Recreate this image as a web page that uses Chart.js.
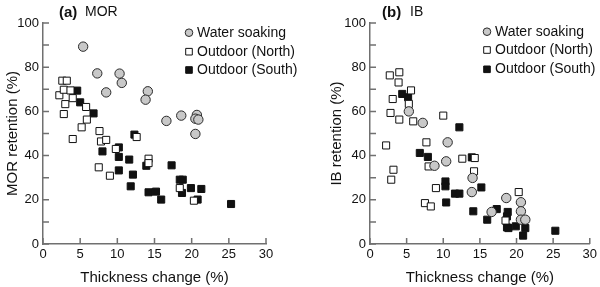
<!DOCTYPE html>
<html>
<head>
<meta charset="utf-8">
<script src="https://cdn.jsdelivr.net/npm/chart.js@4.4.1/dist/chart.umd.min.js"></script>
<style>
  html, body { margin:0; padding:0; background:#fff; }
  #wrap { position:relative; width:600px; height:287px; }
  .panel { position:absolute; top:0; width:300px; height:287px; }
</style>
</head>
<body>
<div id="wrap">
  <div class="panel" style="left:0"><canvas id="morChart" width="300" height="287"></canvas></div>
  <div class="panel" style="left:300px"><canvas id="ibChart" width="300" height="287"></canvas></div>
</div>
<script>
// series names (legend order)
const seriesNames = ['Water soaking', 'Outdoor (North)', 'Outdoor (South)'];

// axis ticks
const xTicks = [0, 5, 10, 15, 20, 25, 30];
const yTicks = [0, 10, 20, 30, 40, 50, 60, 70, 80, 90, 100];
const yTickLabels = [0, 20, 40, 60, 80, 100];

// (a) MOR retention vs thickness change
const morSoakX  = [5.4, 7.3, 8.5, 10.3, 10.6, 14.1, 13.8, 16.6, 18.6, 20.7, 20.5, 20.9, 20.5];
const morSoakY  = [89.3, 77.2, 68.6, 77.1, 72.9, 69.1, 65.3, 55.7, 58.1, 58.4, 56.7, 56.3, 49.8];
const morNorthX = [2.6, 3.2, 2.2, 2.8, 3.7, 3.0, 4.0, 2.8, 4.0, 5.8, 5.9, 5.2, 7.6, 7.8, 8.5, 9.8, 7.5, 9.0, 12.6, 14.2, 14.2, 18.4, 20.3];
const morNorthY = [73.9, 73.9, 67.3, 69.8, 69.5, 63.3, 66.0, 58.8, 47.5, 62.0, 56.3, 52.8, 51.1, 46.4, 47.1, 43.0, 34.7, 30.9, 48.4, 38.6, 36.6, 25.3, 19.6];
const morSouthX = [4.6, 5.0, 6.8, 8.0, 10.2, 10.2, 10.2, 11.6, 12.1, 11.8, 12.3, 13.9, 14.2, 15.2, 15.9, 17.3, 18.4, 18.8, 18.7, 19.9, 21.3, 20.8, 25.3];
const morSouthY = [69.4, 64.1, 59.1, 41.9, 43.7, 39.4, 33.3, 38.2, 31.4, 26.1, 49.5, 35.4, 23.4, 23.7, 20.1, 35.6, 29.1, 29.1, 23.1, 25.3, 24.9, 20.1, 18.1];

// (b) IB retention vs thickness change
const ibSoakX  = [5.3, 7.2, 10.6, 10.4, 8.8, 14.0, 13.9, 16.6, 18.6, 20.6, 20.6, 20.6, 21.2];
const ibSoakY  = [60.0, 54.8, 46.0, 37.4, 35.4, 29.9, 23.5, 14.5, 20.8, 18.9, 14.8, 11.0, 11.0];
const ibNorthX = [2.7, 4.0, 3.9, 5.6, 3.1, 5.3, 2.8, 4.0, 5.9, 10.0, 2.2, 7.7, 3.2, 2.9, 8.0, 12.6, 14.3, 14.2, 9.0, 7.5, 8.3, 20.3, 18.5];
const ibNorthY = [76.3, 77.7, 73.1, 69.5, 65.6, 63.4, 59.3, 56.3, 55.5, 58.1, 44.6, 46.0, 33.6, 29.1, 35.1, 38.6, 38.9, 32.9, 25.3, 18.5, 17.0, 23.5, 10.6];
const ibSouthX = [4.4, 5.2, 6.8, 7.9, 10.3, 10.3, 10.4, 11.6, 12.2, 12.2, 13.9, 14.1, 15.2, 16.0, 17.3, 18.8, 18.7, 18.7, 18.9, 19.9, 21.2, 20.9, 25.3];
const ibSouthY = [67.9, 66.4, 41.2, 39.4, 28.3, 26.1, 18.8, 22.8, 22.8, 52.8, 39.2, 14.8, 25.6, 11.0, 15.8, 14.5, 12.5, 7.5, 7.2, 8.0, 7.2, 3.8, 6.0];

const axisColor = '#707070';
const textColor = '#111';
const fontFamily = '"Liberation Sans", Arial, Helvetica, sans-serif';

function pts(xs, ys){ return xs.map((x, i) => ({x: x, y: ys[i]})); }

const seriesStyle = [
  {pointStyle:'circle', pointRadius:4.7, backgroundColor:'#c8c8c8', borderColor:'#2a2a2a', borderWidth:1},
  {pointStyle:'rect',   pointRadius:5,   backgroundColor:'#ffffff', borderColor:'#111111', borderWidth:1},
  {pointStyle:'rect',   pointRadius:5,   backgroundColor:'#111111', borderColor:'#111111', borderWidth:1}
];

// draws inward ticks, the panel caption and the legend
const decor = {
  id: 'decor',
  afterDraw(chart, args, opts){
    const ctx = chart.ctx;
    const area = chart.chartArea;
    const xs = chart.scales.x, ys = chart.scales.y;
    ctx.save();
    ctx.strokeStyle = axisColor;
    ctx.lineWidth = 1.5;
    ctx.beginPath();
    xTicks.forEach(v => { const p = xs.getPixelForValue(v); ctx.moveTo(p, area.bottom); ctx.lineTo(p, area.bottom - 6); });
    yTicks.forEach(v => { const p = ys.getPixelForValue(v); ctx.moveTo(area.left, p); ctx.lineTo(area.left + 6, p); });
    ctx.stroke();

    // caption
    ctx.fillStyle = textColor;
    ctx.textBaseline = 'middle';
    ctx.textAlign = 'left';
    ctx.font = 'bold 15px ' + fontFamily;
    ctx.fillText(opts.tag, opts.tagX, 12.5);
    ctx.font = '14px ' + fontFamily;
    ctx.fillText(opts.name, opts.nameX, 12.5);

    // legend
    ctx.font = '14px ' + fontFamily;
    chart.data.datasets.forEach((ds, i) => {
      const y = opts.legendY[i];
      ctx.lineWidth = 1;
      ctx.strokeStyle = ds.borderColor;
      ctx.fillStyle = ds.backgroundColor;
      ctx.beginPath();
      if (ds.pointStyle === 'circle') ctx.arc(opts.legendX, y, 3.8, 0, Math.PI * 2);
      else ctx.rect(opts.legendX - 3.3, y - 3.3, 6.6, 6.6);
      ctx.fill(); ctx.stroke();
      ctx.fillStyle = textColor;
      ctx.fillText(ds.label, opts.legendX + 8, y);
    });
    ctx.restore();
  }
};

function makeChart(id, sets, yTitle, p){
  const datasets = sets.map((d, i) => Object.assign({label: seriesNames[i], data: d}, seriesStyle[i]));
  return new Chart(document.getElementById(id), {
    type: 'scatter',
    data: {datasets: datasets},
    options: {
      responsive:false,
      animation:false,
      events:[],
      layout:{padding:{top:23, right:p.padRight, left:0, bottom:0}, autoPadding:false},
      plugins:{legend:{display:false}, tooltip:{enabled:false}, decor:p.decor},
      scales:{
        x:{
          type:'linear', min:0, max:30,
          afterBuildTicks: s => { s.ticks = xTicks.map(v => ({value:v})); },
          afterFit: s => { s.height = 43; },
          grid:{display:false, drawTicks:false},
          border:{color:axisColor, width:1.5},
          ticks:{padding:3, color:textColor, font:{family:fontFamily, size:13}},
          title:{display:true, text:'Thickness change (%)', color:textColor, font:{family:fontFamily, size:15}, padding:{top:0, bottom:0}}
        },
        y:{
          type:'linear', min:0, max:100,
          afterBuildTicks: s => { s.ticks = yTicks.map(v => ({value:v})); },
          afterFit: s => { s.width = p.yWidth; },
          grid:{display:false, drawTicks:false},
          border:{color:axisColor, width:1.5},
          ticks:{padding:4, color:textColor, font:{family:fontFamily, size:13},
            callback: v => yTickLabels.includes(v) ? v : ''},
          title:{display:true, text:yTitle, color:textColor, font:{family:fontFamily, size:15}, padding:{top:p.yTitlePad, bottom:0}}
        }
      }
    },
    plugins:[decor]
  });
}

makeChart('morChart',
  [pts(morSoakX, morSoakY), pts(morNorthX, morNorthY), pts(morSouthX, morSouthY)],
  'MOR retention (%)',
  {padRight:34, yWidth:43, yTitlePad:3.5,
   decor:{tag:'(a)', tagX:59, name:'MOR', nameX:85, legendX:189, legendY:[32.7, 51.7, 70]}});

makeChart('ibChart',
  [pts(ibSoakX, ibSoakY), pts(ibNorthX, ibNorthY), pts(ibSouthX, ibSouthY)],
  'IB retention (%)',
  {padRight:8, yWidth:70, yTitlePad:27.5,
   decor:{tag:'(b)', tagX:82, name:'IB', nameX:110, legendX:187, legendY:[31.7, 50, 69.3]}});
</script>
</body>
</html>
